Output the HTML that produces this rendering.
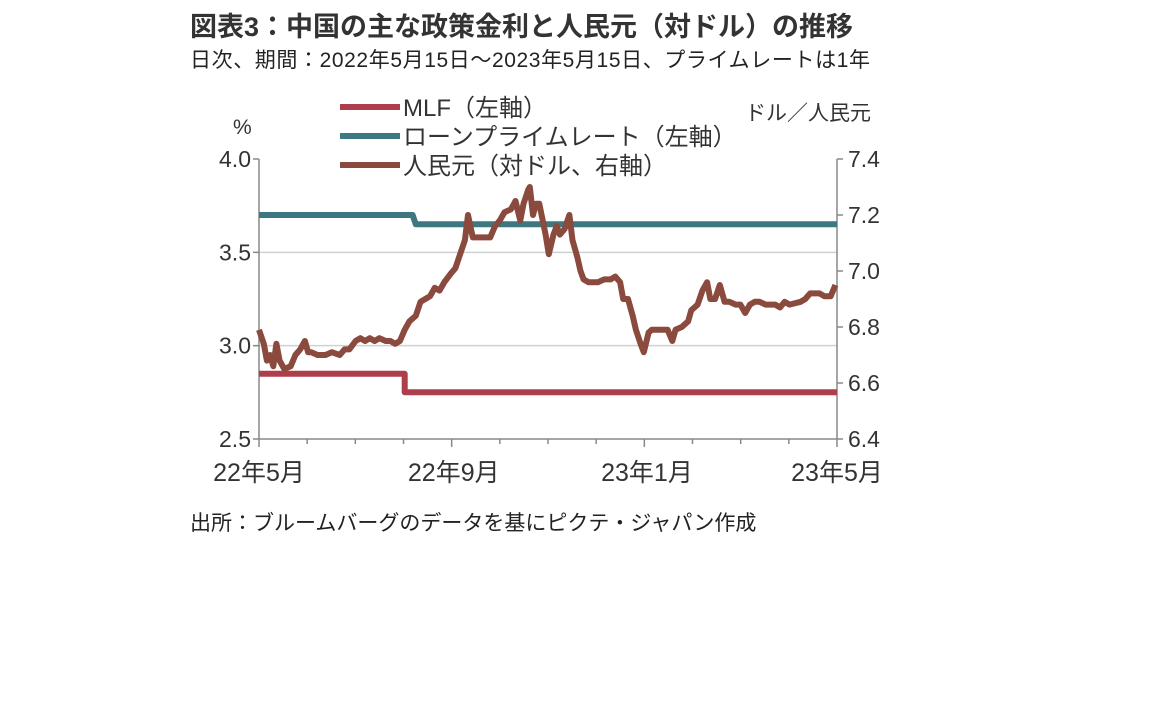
<!DOCTYPE html>
<html><head><meta charset="utf-8">
<style>
body{margin:0;background:#fff;width:1152px;height:720px;overflow:hidden;font-family:"Liberation Sans","Noto Sans CJK JP",sans-serif;color:#222}
.t{position:absolute;white-space:nowrap}
</style></head>
<body>
<div class="t" style="left:190px;top:5px;font-size:27px;font-weight:bold;color:#333">図表3：中国の主な政策金利と人民元（対ドル）の推移</div>
<div class="t" style="left:190px;top:44px;font-size:21px;letter-spacing:0.6px;color:#222">日次、期間：2022年5月15日～2023年5月15日、プライムレートは1年</div>
<div class="t" style="left:190px;top:507px;font-size:21px;color:#222">出所：ブルームバーグのデータを基にピクテ・ジャパン作成</div>
<svg id="chart" width="1152" height="720" style="position:absolute;left:0;top:0;font-family:'Liberation Sans','Noto Sans CJK JP',sans-serif"></svg>
<script>
const xTickLabels=["22年5月","22年9月","23年1月","23年5月"];
const xTickDays=[0,123,245,365];
const leftTicks=[2.5,3.0,3.5,4.0];
const rightTicks=[6.4,6.6,6.8,7.0,7.2,7.4];
const mlfDays=[0,92,92,365];
const mlfVals=[2.85,2.85,2.75,2.75];
const lprDays=[0,97,99,365];
const lprVals=[3.70,3.70,3.65,3.65];
const cnyDays=[0,3,5,7,9,11,13,16,20,23,26,29,31,33,37,42,46,51,54,57,61,64,67,70,73,76,80,83,86,89,92,95,99,102,105,108,111,114,117,121,124,127,130,132,135,138,143,146,149,152,155,159,160,162,165,167,170,171,173,175,177,181,183,186,188,190,193,196,198,201,203,205,208,211,214,218,222,225,228,230,233,236,238,241,243,246,248,253,258,261,263,267,271,273,277,280,283,285,288,291,294,297,301,304,307,310,313,316,320,323,326,329,332,335,342,345,348,351,354,357,361,364];
const cnyVals=[6.79,6.74,6.68,6.70,6.66,6.74,6.68,6.65,6.66,6.70,6.72,6.75,6.71,6.71,6.70,6.70,6.71,6.70,6.72,6.72,6.75,6.76,6.75,6.76,6.75,6.76,6.75,6.75,6.74,6.75,6.79,6.82,6.84,6.89,6.90,6.91,6.94,6.93,6.96,6.99,7.01,7.06,7.11,7.20,7.12,7.12,7.12,7.12,7.16,7.18,7.21,7.22,7.23,7.25,7.18,7.24,7.29,7.30,7.20,7.24,7.24,7.13,7.06,7.13,7.16,7.13,7.15,7.20,7.11,7.05,7.00,6.97,6.96,6.96,6.96,6.97,6.97,6.98,6.96,6.90,6.90,6.84,6.79,6.74,6.71,6.78,6.79,6.79,6.79,6.75,6.79,6.80,6.82,6.86,6.88,6.93,6.96,6.90,6.90,6.95,6.89,6.89,6.88,6.88,6.85,6.88,6.89,6.89,6.88,6.88,6.88,6.87,6.89,6.88,6.89,6.90,6.92,6.92,6.92,6.91,6.91,6.95,6.95];
const X0=259,X1=837,Y0=159,Y1=439;
const xs=d=>X0+(X1-X0)*d/365;
const yl=v=>Y1-(v-2.5)/1.5*(Y1-Y0);
const yr=v=>Y1-(v-6.4)/1.0*(Y1-Y0);
const svg=document.getElementById('chart');
const NS='http://www.w3.org/2000/svg';
function mk(tag,at){const e=document.createElementNS(NS,tag);for(const k in at)e.setAttribute(k,at[k]);svg.appendChild(e);return e;}
leftTicks.forEach(v=>{if(v>2.5&&v<4.0){const g=mk('line',{x1:X0,x2:X1,y1:yl(v),y2:yl(v),stroke:'#d0d0d0','stroke-width':1.5});

}});
[[X0,Y0,X0,Y1],[X1,Y0,X1,Y1],[X0,Y1,X1,Y1]].forEach(a=>{const l=mk('line',{x1:a[0],y1:a[1],x2:a[2],y2:a[3],stroke:'#888','stroke-width':1.5});

});
leftTicks.forEach(v=>{mk('line',{x1:X0-6,x2:X0,y1:yl(v),y2:yl(v),stroke:'#888','stroke-width':1.5});
const t=mk('text',{x:X0-8,y:yl(v)+8,'text-anchor':'end','font-size':23,fill:'#333'});t.textContent=v.toFixed(1);

});
rightTicks.forEach(v=>{mk('line',{x1:X1,x2:X1+6,y1:yr(v),y2:yr(v),stroke:'#888','stroke-width':1.5});
const t=mk('text',{x:X1+11,y:yr(v)+8,'text-anchor':'start','font-size':23,fill:'#333'});t.textContent=v.toFixed(1);

});
for(let m=0;m<=12;m++){const d=m*365/12;mk('line',{x1:xs(d),x2:xs(d),y1:Y1,y2:Y1+(m%4==0?8:5),stroke:'#888','stroke-width':1.5});}
xTickLabels.forEach((s,i)=>{const t=mk('text',{x:xs(xTickDays[i]),y:Y1+42,'text-anchor':'middle','font-size':25,fill:'#333'});t.textContent=s;

});
function series(days,vals,yf,color,name){const p=days.map((d,i)=>xs(d).toFixed(1)+','+yf(vals[i]).toFixed(1)).join(' ');
const e=mk('polyline',{points:p,fill:'none',stroke:color,'stroke-width':6,'stroke-linejoin':'round'});

}
series(mlfDays,mlfVals,yl,'#AE3F4A','mlf-line');
series(lprDays,lprVals,yl,'#3D7880','lpr-line');
series(cnyDays,cnyVals,yr,'#8A4A3E','cny-line');
const lu=mk('text',{x:233,y:134,'font-size':21,fill:'#333'});lu.textContent='%';


const ru=mk('text',{x:745,y:120,'font-size':21,fill:'#333'});ru.textContent='ドル／人民元';


const legend=[['MLF（左軸）','#AE3F4A',107],['ローンプライムレート（左軸）','#3D7880',136],['人民元（対ドル、右軸）','#8A4A3E',165]];
legend.forEach(l=>{const ln=mk('line',{x1:340,x2:400,y1:l[2],y2:l[2],stroke:l[1],'stroke-width':6});


const t=mk('text',{x:403,y:l[2]+9,'font-size':24,fill:'#333'});t.textContent=l[0];

});
</script>
</body></html>
